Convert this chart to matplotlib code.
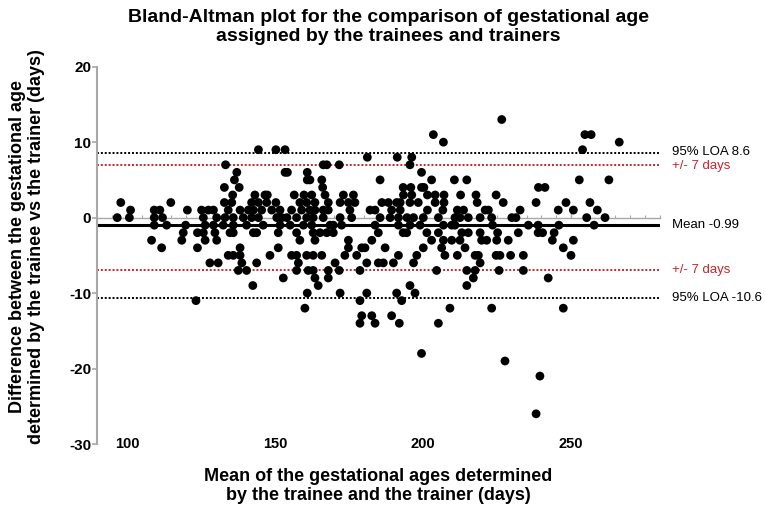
import matplotlib
matplotlib.use('Agg')
import matplotlib.pyplot as plt
import matplotlib.transforms as mtransforms
from matplotlib.ticker import MultipleLocator

plt.rcParams['font.family'] = ['Liberation Sans', 'DejaVu Sans']
plt.rcParams['axes.unicode_minus'] = False

# Bland-Altman summary values
mean_diff = -0.99
loa_upper = 8.6
loa_lower = -10.6
clin_limit = 7

# Differences (days) and the mean gestational ages read at each difference level
diff_levels = [13, 11, 10, 9, 8, 7, 6, 5, 4, 3, 2, 1, 0, -1, -2, -3, -4, -5,
               -6, -7, -8, -9, -10, -11, -12, -13, -14, -18, -19, -21, -26]
mean_by_level = [
    [226.6],
    [203.5, 254.7, 256.8],
    [206.9, 266.3],
    [144.4, 150.3, 153.4, 253.9],
    [181.2, 191.3, 196.2],
    [133.3, 166.3, 167.5, 171.7, 195.6],
    [137.1, 153.4, 154.2, 160.9, 199.5],
    [136.3, 160.9, 161.8, 165.8, 185.5, 202.9, 210.6, 214.8, 252.8, 262.8],
    [132.9, 137.9, 166.1, 193.3, 195.9, 199.5, 200.3, 239.0, 241.2],
    [135.7, 143.2, 146.6, 147.4, 156.5, 159.8, 162.4, 166.9, 173.1, 176.5,
     193.4, 196.2, 201.5, 204.1, 207.1, 212.7, 217.9, 224.7],
    [97.9, 114.8, 132.9, 135.4, 142.1, 144.4, 147.2, 150.3, 158.4, 160.7,
     163.5, 168.0, 172.0, 174.8, 177.0, 186.1, 188.3, 191.1, 192.3, 195.6,
     198.4, 204.1, 207.1, 218.3, 227.1, 238.2, 248.3, 256.4],
    [101.2, 109.2, 111.1, 120.4, 125.2, 127.5, 129.2, 134.2, 138.2, 141.0,
     142.7, 145.5, 148.9, 151.7, 155.6, 159.0, 161.8, 163.5, 166.3, 168.0,
     175.3, 182.1, 183.8, 189.4, 192.3, 201.5, 206.7, 211.6, 213.7, 221.0,
     222.1, 232.8, 245.7, 250.8, 258.9],
    [96.7, 100.8, 109.2, 112.0, 125.8, 130.3, 133.1, 135.9, 139.3, 142.1,
     144.4, 150.6, 152.3, 154.0, 157.3, 160.7, 162.9, 166.3, 172.0, 175.9,
     185.5, 188.9, 191.7, 194.6, 196.8, 200.1, 205.2, 210.8, 212.5, 215.3,
     219.3, 223.2, 230.0, 231.4, 255.3, 261.5],
    [109.2, 113.4, 119.8, 126.4, 129.2, 132.5, 135.9, 140.4, 146.0, 151.7,
     155.1, 159.6, 162.4, 168.6, 169.7, 172.5, 183.8, 191.7, 195.6, 199.0,
     206.9, 209.7, 210.8, 223.5, 235.6, 238.9, 245.9, 257.8],
    [119.0, 123.8, 125.8, 129.7, 134.8, 135.9, 142.7, 143.8, 151.1, 157.3,
     162.9, 165.2, 167.5, 169.7, 184.9, 193.3, 194.5, 201.3, 205.2, 213.1,
     215.3, 219.3, 225.2, 232.2, 238.9, 240.4, 244.3],
    [108.3, 118.5, 126.4, 130.3, 158.4, 163.5, 174.8, 182.7, 202.9, 206.9,
     209.7, 212.5, 219.8, 221.5, 224.9, 228.8, 243.7, 250.8],
    [111.7, 123.8, 138.2, 151.1, 174.8, 179.3, 180.4, 187.2, 200.1, 206.3,
     214.2, 247.4],
    [134.2, 135.9, 138.2, 148.3, 155.6, 157.3, 160.7, 162.9, 165.8, 173.6,
     177.6, 191.7, 197.9, 207.4, 211.6, 217.6, 218.7, 224.7, 226.0, 229.6,
     233.9, 250.0],
    [128.0, 130.8, 138.8, 143.8, 157.9, 170.3, 181.0, 184.9, 186.6, 190.0,
     196.8, 219.3],
    [137.6, 140.4, 157.3, 161.2, 162.9, 168.0, 171.7, 178.7, 204.6, 214.8,
     217.6, 225.7, 233.9],
    [152.8, 163.5, 168.0, 217.0, 242.3],
    [142.5, 164.6, 195.6, 214.8],
    [160.9, 172.0, 181.0, 191.1, 197.3],
    [123.3, 178.7, 192.8],
    [160.1, 209.1, 223.2, 247.4],
    [179.3, 182.7, 189.4],
    [178.7, 183.8, 192.0, 205.2],
    [199.5],
    [227.7],
    [239.5],
    [238.2],
]

x_ticks = [100, 150, 200, 250]
y_ticks = [-30, -20, -10, 0, 10, 20]

mean_ga = []
diff_days = []
for d, means in zip(diff_levels, mean_by_level):
    mean_ga.extend(means)
    diff_days.extend([d] * len(means))

grey = '#a8a8a8'
red = '#c8242b'

fig = plt.figure(figsize=(7.65, 5.13), dpi=100)
ax = fig.add_axes([97.4 / 765, 1 - 444 / 513, (659.8 - 97.4) / 765, (444 - 66.7) / 513])

ax.axhline(loa_upper, color='black', ls=(0, (1, 1)), lw=1.4, zorder=2)
ax.axhline(loa_lower, color='black', ls=(0, (1, 1)), lw=1.4, zorder=2)
ax.axhline(clin_limit, color=red, ls=(0, (1, 1)), lw=1.4, zorder=2)
ax.axhline(-clin_limit, color=red, ls=(0, (1, 1)), lw=1.4, zorder=2)
ax.axhline(mean_diff, color='black', lw=2.2, zorder=2)

ax.scatter(mean_ga, diff_days, s=40, color='black', edgecolors='none', zorder=3)

ax.set_xlim(90, 280)
ax.set_ylim(-30, 20)

for side in ('top', 'right'):
    ax.spines[side].set_visible(False)
ax.spines['left'].set_color(grey)
ax.spines['left'].set_linewidth(1.5)
ax.spines['bottom'].set_position(('data', 0))
ax.spines['bottom'].set_color(grey)
ax.spines['bottom'].set_linewidth(1.0)

ax.set_xticks(x_ticks)
ax.xaxis.set_minor_locator(MultipleLocator(5))
ax.tick_params(axis='x', which='major', direction='in', length=4, width=1,
               color=grey, pad=158, labelsize=10.5)
ax.tick_params(axis='x', which='minor', direction='in', length=2.5, width=0.8, color=grey)
ax.set_yticks(y_ticks)
ax.tick_params(axis='y', direction='out', length=3.6, width=1.2, color=grey,
               pad=1, labelsize=11)
for lab in ax.get_xticklabels() + ax.get_yticklabels():
    lab.set_fontweight('bold')

# labels on the right of the reference lines
trans = mtransforms.blended_transform_factory(ax.transAxes, ax.transData)
ax.text(1.021, loa_upper + 0.1, f'95% LOA {loa_upper}', transform=trans, va='center', fontsize=9.5)
ax.text(1.021, clin_limit - 0.1, f'+/- {clin_limit} days', transform=trans, va='center',
        fontsize=9.5, color=red)
ax.text(1.021, mean_diff, f'Mean {mean_diff}', transform=trans, va='center', fontsize=9.5)
ax.text(1.021, -clin_limit, f'+/- {clin_limit} days', transform=trans, va='center',
        fontsize=9.5, color=red)
ax.text(1.021, loa_lower, f'95% LOA {loa_lower}', transform=trans, va='center', fontsize=9.5)

fig.text(388 / 765, 1 - 27 / 513,
         'Bland-Altman plot for the comparison of gestational age\n'
         'assigned by the trainees and trainers',
         ha='center', va='center', fontsize=14, fontweight='bold', linespacing=1.2)
fig.text(378 / 765, 1 - 486 / 513,
         'Mean of the gestational ages determined\nby the trainee and the trainer (days)',
         ha='center', va='center', fontsize=13, fontweight='bold', linespacing=1.1)
fig.text(27 / 765, 1 - 247 / 513,
         'Difference between the gestational age\ndetermined by the trainee vs the trainer (days)',
         ha='center', va='center', rotation=90, fontsize=13, fontweight='bold',
         linespacing=1.1)

fig.savefig('out.png', dpi=100)
